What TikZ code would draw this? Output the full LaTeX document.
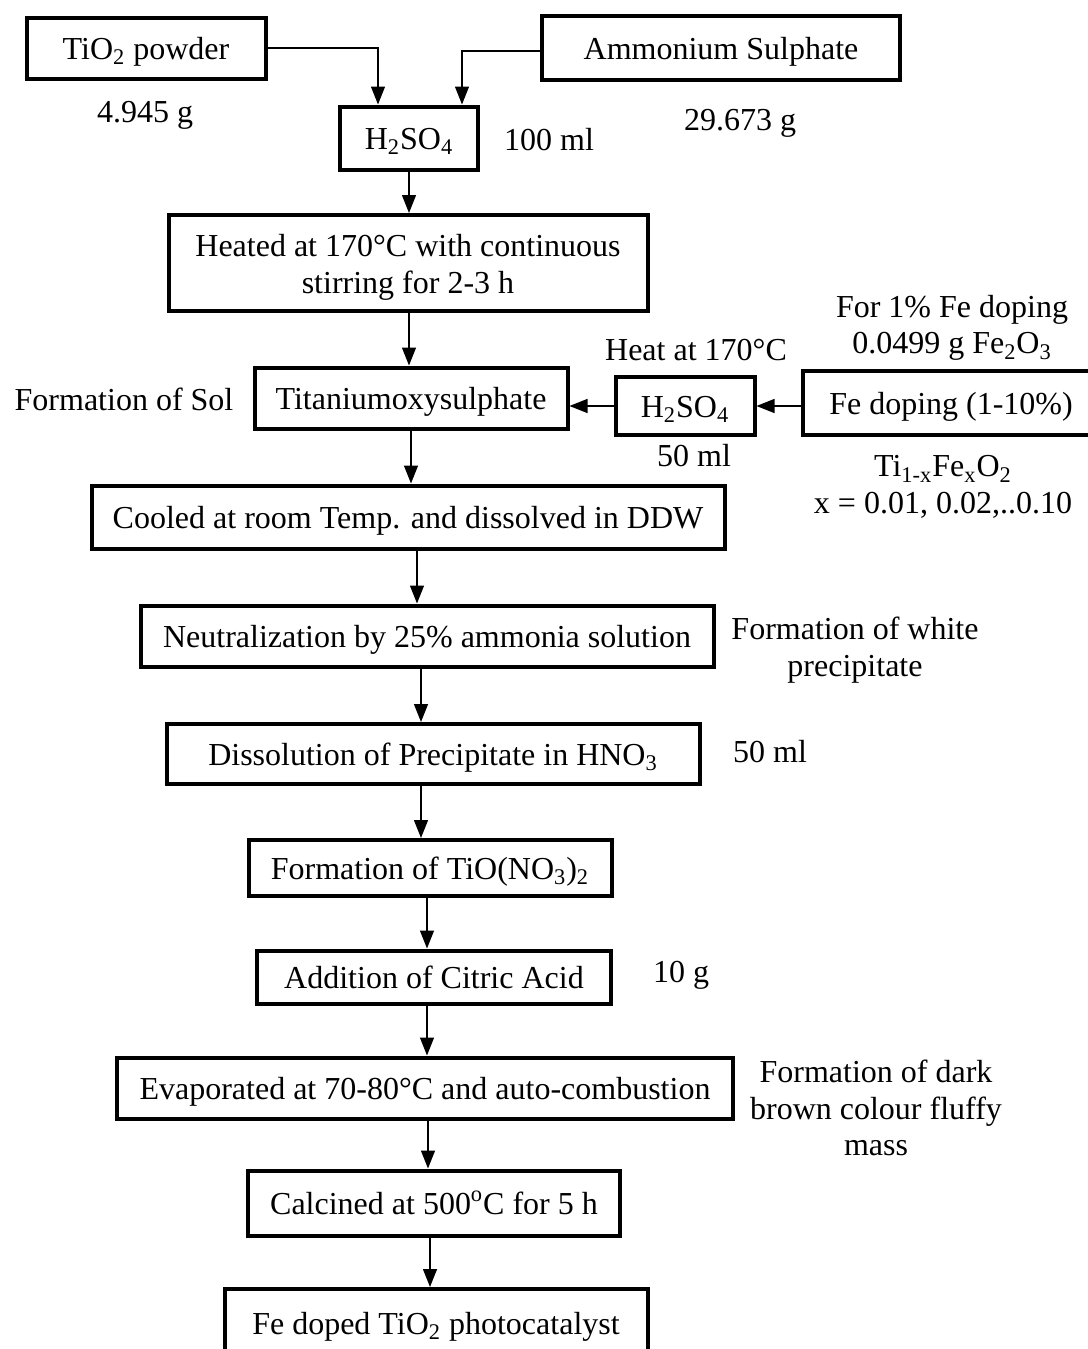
\documentclass[tikz,border=0pt]{standalone}
\usepackage{fontspec}
\setmainfont{Liberation Serif}
\usetikzlibrary{arrows.meta}

\begin{document}
\begin{tikzpicture}[x=0.5pt,y=-0.5pt,
    font=\fontsize{16}{18.3}\selectfont,
    stage/.style={draw,line width=2pt,inner sep=0pt,align=center,text height=15.5pt,text depth=4pt},
    note/.style={inner sep=0pt,align=center},
    flow/.style={-{Triangle[width=7pt,length=9pt]},line width=0.7pt}]
  \useasboundingbox (0,0) rectangle (1087,1349);
  % boxes
  \node[stage,minimum width=119.5pt,minimum height=30.5pt] (tio) at (146,48) {TiO\textsubscript{2} powder};
  \node[stage,minimum width=179pt,minimum height=32pt] (amm) at (721,48) {Ammonium Sulphate};
  \node[stage,minimum width=69pt,minimum height=31.5pt] (hso) at (409,138) {H\textsubscript{2}SO\textsubscript{4}};
  \node[stage,minimum width=239.5pt,minimum height=48pt,text height=34pt] (heat) at (408,263) {Heated at 170°C with continuous\\stirring for 2-3 h};
  \node[stage,minimum width=156.5pt,minimum height=30.5pt] (tos) at (411,398) {Titaniumoxysulphate};
  \node[stage,minimum width=69.5pt,minimum height=29pt] (hsob) at (685,406) {H\textsubscript{2}SO\textsubscript{4}};
  \node[stage,minimum width=148pt,minimum height=32pt] (fedop) at (951,403) {Fe doping (1-10\%)};
  \node[stage,minimum width=316.5pt,minimum height=31.5pt] (cool) at (408,517) {Cooled at room Temp. and dissolved in DDW};
  \node[stage,minimum width=286.5pt,minimum height=30.5pt] (neut) at (427,636) {Neutralization by 25\% ammonia solution};
  \node[stage,minimum width=266.5pt,minimum height=30pt] (diss) at (433,754) {Dissolution of Precipitate in HNO\textsubscript{3}};
  \node[stage,minimum width=181.5pt,minimum height=28pt] (tino) at (430,868) {Formation of TiO(NO\textsubscript{3})\textsubscript{2}};
  \node[stage,minimum width=177pt,minimum height=26.5pt] (cit) at (434,977) {Addition of Citric Acid};
  \node[stage,minimum width=308pt,minimum height=30.5pt] (evap) at (425,1088) {Evaporated at 70-80°C and auto-combustion};
  \node[stage,minimum width=186pt,minimum height=32.5pt] (calc) at (434,1203) {Calcined at 500\textsuperscript{o}C for 5 h};
  \node[stage,minimum width=211.5pt,minimum height=34pt] (prod) at (436,1323) {Fe doped TiO\textsubscript{2} photocatalyst};
  % side notes
  \node[note] (mtio) at (145,115) {4.945 g};
  \node[note] (mamm) at (740,123) {29.673 g};
  \node[note] (vhso) at (549,140) {100 ml};
  \node[note] (fone) at (952,328) {For 1\% Fe doping\\0.0499 g Fe\textsubscript{2}O\textsubscript{3}};
  \node[note] (theat) at (696,350) {Heat at 170°C};
  \node[note] (sol) at (124,399) {Formation of Sol};
  \node[note] (vhsob) at (694,456) {50 ml};
  \node[note] (comp) at (943,487) {Ti\textsubscript{1-x}Fe\textsubscript{x}O\textsubscript{2}\\x = 0.01, 0.02,..0.10};
  \node[note] (white) at (855,650) {Formation of white\\precipitate};
  \node[note] (vdiss) at (770,752) {50 ml};
  \node[note] (mcit) at (681,975) {10 g};
  \node[note] (dark) at (876,1108) {Formation of dark\\brown colour fluffy\\mass};
  % connectors
  \begin{scope}[flow]
    \draw (tio.east) -| ([xshift=-15.5pt]hso.north);
    \draw ([yshift=-1.5pt]amm.west) -| ([xshift=26.5pt]hso.north);
    \draw (hso.south) -- (hso.south |- heat.north);
    \draw (hso.south |- heat.south) -- (hso.south |- tos.north);
    \draw (fedop.west |- hsob.east) -- (hsob.east);
    \draw (hsob.west) -- (hsob.west -| tos.east);
    \draw (tos.south) -- (tos.south |- cool.north);
    \draw ([xshift=4.5pt]cool.south) -- ([xshift=4.5pt]cool.south |- neut.north);
    \draw ([xshift=-3pt]neut.south) -- ([xshift=-3pt]neut.south |- diss.north);
    \draw ([xshift=-6pt]diss.south) -- ([xshift=-6pt]diss.south |- tino.north);
    \draw ([xshift=-1.5pt]tino.south) -- ([xshift=-1.5pt]tino.south |- cit.north);
    \draw ([xshift=-3.5pt]cit.south) -- ([xshift=-3.5pt]cit.south |- evap.north);
    \draw ([xshift=1.5pt]evap.south) -- ([xshift=1.5pt]evap.south |- calc.north);
    \draw ([xshift=-2pt]calc.south) -- ([xshift=-2pt]calc.south |- prod.north);
  \end{scope}
\end{tikzpicture}
\end{document}
